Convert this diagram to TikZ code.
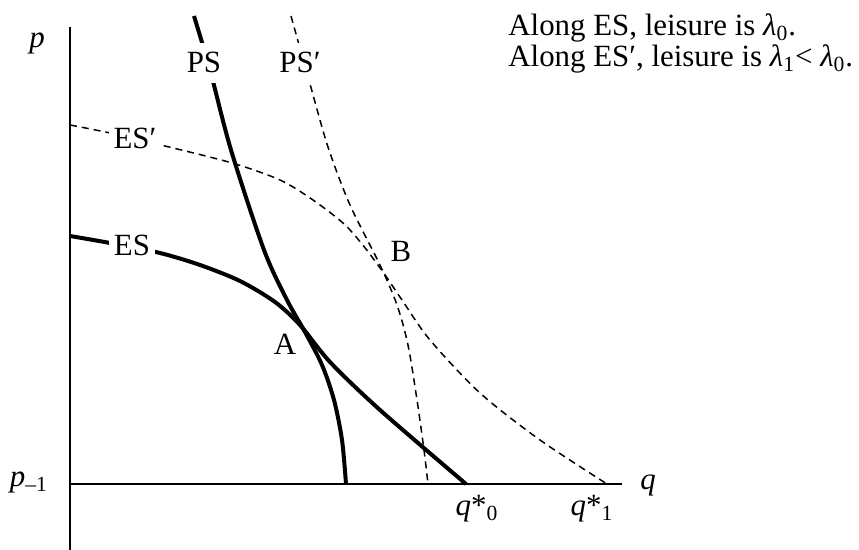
\documentclass[tikz,border=0pt]{standalone}
\usepackage{fontspec}
\setmainfont{Liberation Serif}
\usepackage{tikz}

\begin{document}
\begin{tikzpicture}[x=0.5bp,y=-0.5bp,
  axis/.style={line width=1bp},
  solidcurve/.style={line width=2bp},
  dashcurve/.style={line width=0.75bp,dash pattern=on 3.5bp off 2.5bp},
  tag/.style={font=\fontsize{15.5}{18.6}\selectfont,inner sep=0pt,anchor=base},
  gaptag/.style={tag,fill=white,inner xsep=2.5bp,inner ysep=5bp}]
\useasboundingbox (0,0) rectangle (859,550);
\coordinate (ptop) at (70,27);
\coordinate (pbot) at (70,550);
\coordinate (qleft) at (70,484);
\coordinate (qright) at (622,484);
\draw[axis] (ptop) -- (pbot);
\draw[axis] (qleft) -- (qright);
\draw[dashcurve] plot[smooth] coordinates {(70,125) (110,133) (165,146) (232,163) (280,180) (313,200) (343,223) (362,244) (383,272) (402,300) (430,340) (480,393) (540,440) (607,484)};
\draw[dashcurve] plot[smooth] coordinates {(291,16) (310,84) (328,147) (350,205) (380,265) (397,305) (408,345) (417,400) (424,450) (428,484)};
\draw[solidcurve] plot[smooth] coordinates {(70,236) (110,243) (160,253) (200,265) (240,281) (275,302) (300,325) (330,362) (380,410) (466,484)};
\draw[solidcurve] plot[smooth] coordinates {(194,16) (210,70) (231,150) (264,250) (287,300) (305,332) (322,365) (334,400) (342,440) (346,484)};
\node[gaptag] (ps) at (204,73) {PS};
\node[gaptag] (psp) at (300,73) {PS′};
\node[gaptag] (esp) at (135,149) {ES′};
\node[gaptag] (es) at (132,256) {ES};
\node[tag] (ptA) at (285,355) {A};
\node[tag] (ptB) at (401,262) {B};
\node[tag] (plab) at (37,48) {\textit{p}};
\node[tag] (pmin) at (29,487) {\textit{p}\textsubscript{–1}};
\node[tag] (qlab) at (648,490) {\textit{q}};
\node[tag] (qzero) at (477,516) {\textit{q}*\textsubscript{0}};
\node[tag] (qone) at (592,516) {\textit{q}*\textsubscript{1}};
\node[tag,anchor=base west] (noteA) at (508,36) {Along ES, leisure is \textit{λ}\textsubscript{0}.};
\node[tag,anchor=base west] (noteB) at (508,67) {Along ES′, leisure is \textit{λ}\textsubscript{1}< \textit{λ}\textsubscript{0}.};
\end{tikzpicture}
\end{document}
